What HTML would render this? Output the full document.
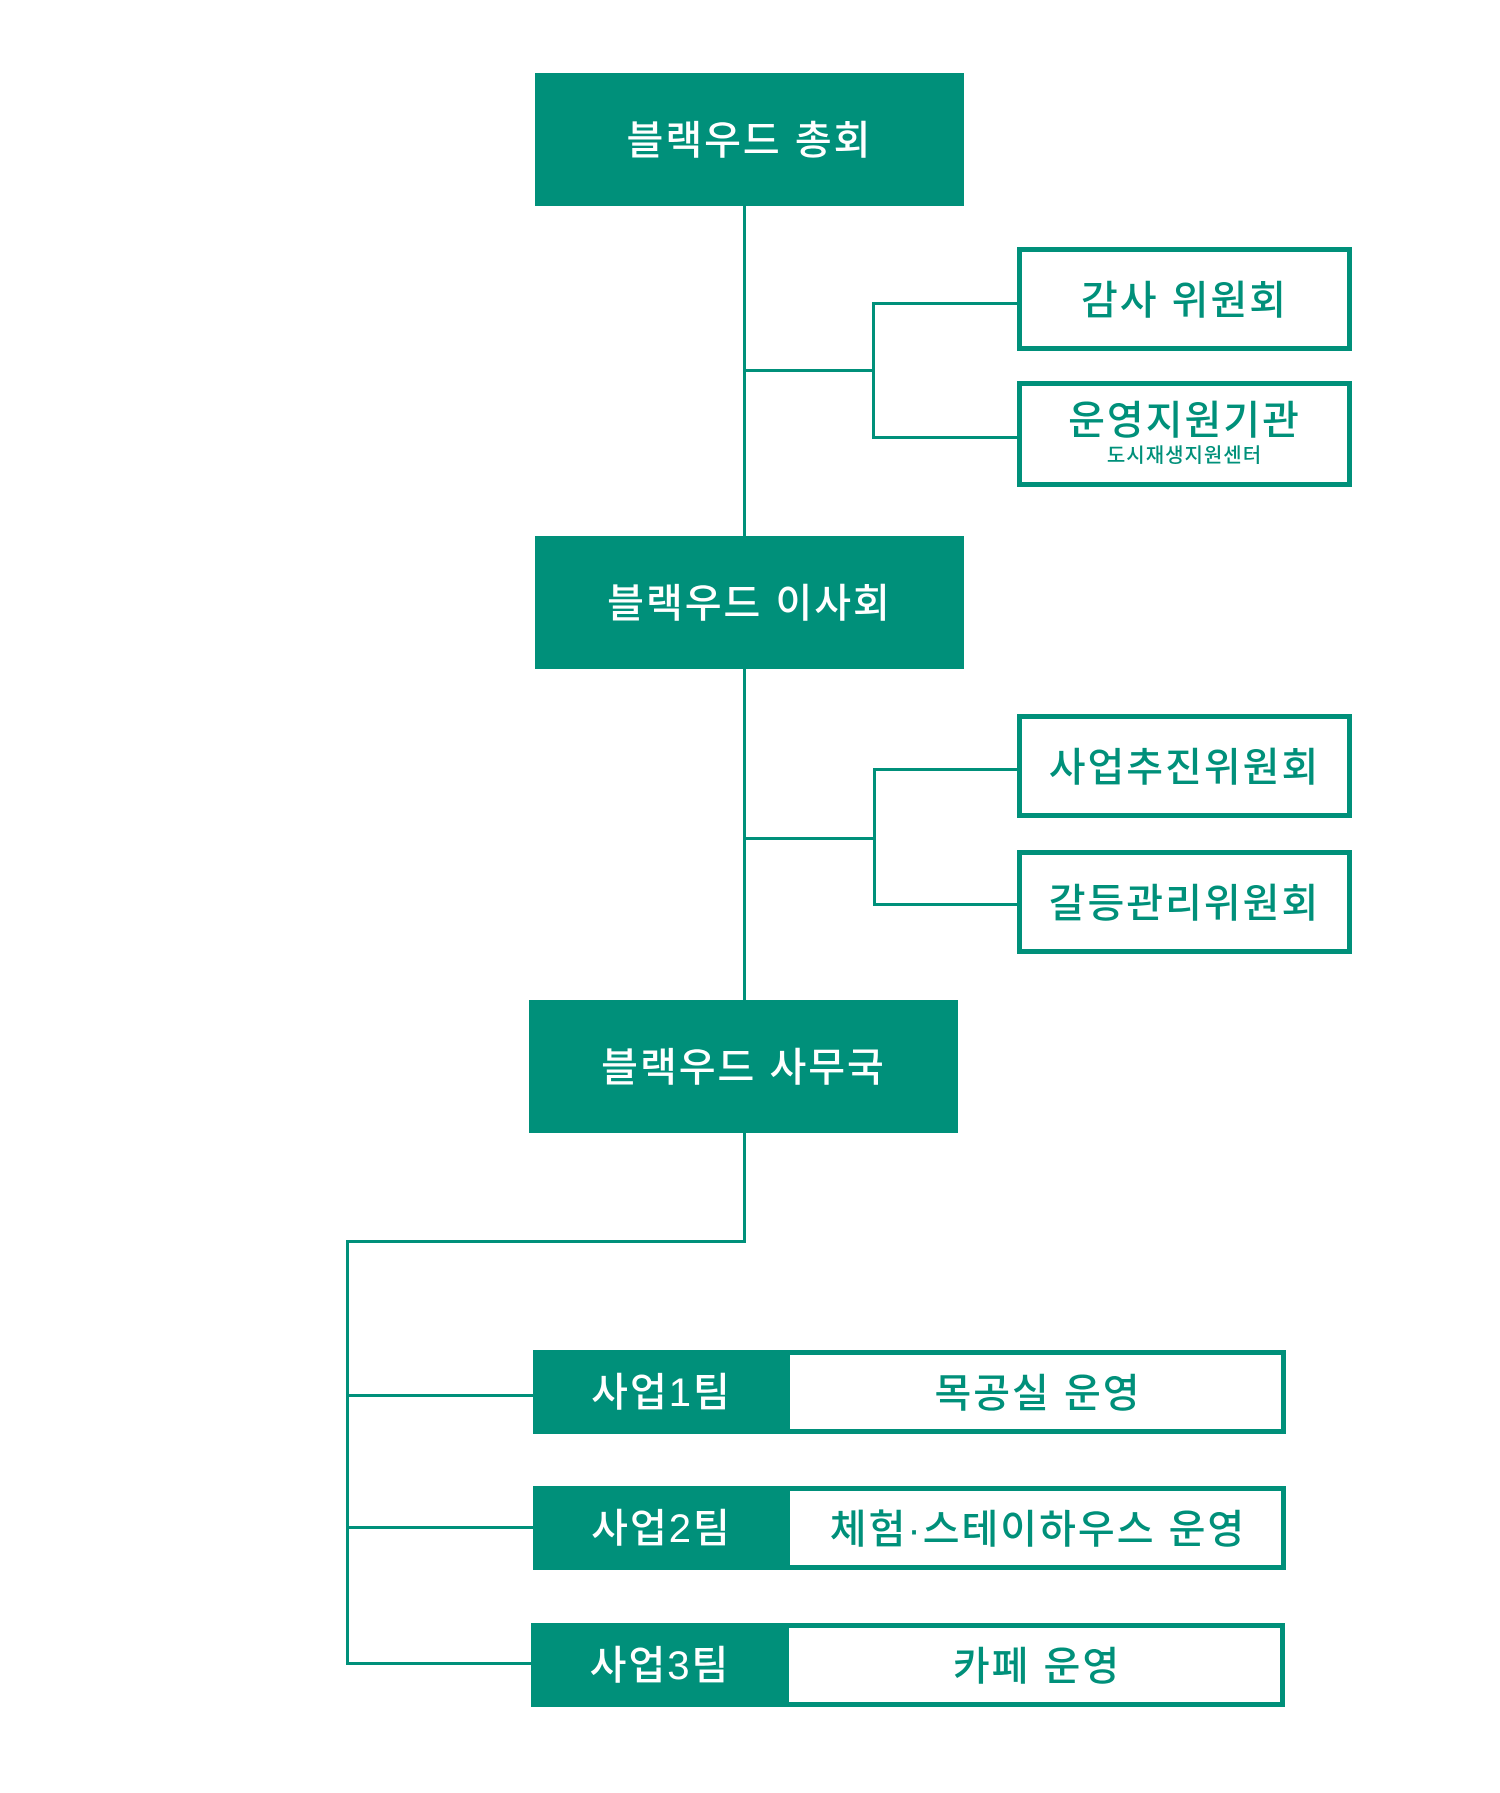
<!DOCTYPE html>
<html><head><meta charset="utf-8"><style>
body{margin:0;width:1500px;height:1793px;background:#fff;position:relative;overflow:hidden;font-family:"Liberation Sans","Noto Sans CJK KR",sans-serif}
.d{position:absolute;box-sizing:border-box;display:flex;align-items:center;justify-content:center;flex-direction:column;letter-spacing:2px}
.f{background:#00907a;color:#fff;font-size:40px;font-weight:500;padding-bottom:6px}
.o{border:5px solid #00907a;color:#00907a;font-size:40px;font-weight:500;background:#fff;padding-bottom:4px}
.l{position:absolute;background:#00907a}
</style></head><body>
<div class="l" style="left:743px;top:205px;width:3px;height:335px"></div>
<div class="l" style="left:743px;top:668px;width:3px;height:334px"></div>
<div class="l" style="left:743px;top:1132px;width:3px;height:110px"></div>
<div class="l" style="left:743px;top:369px;width:131px;height:3px"></div>
<div class="l" style="left:872px;top:302px;width:3px;height:137px"></div>
<div class="l" style="left:872px;top:302px;width:147px;height:3px"></div>
<div class="l" style="left:872px;top:436px;width:147px;height:3px"></div>
<div class="l" style="left:743px;top:837px;width:132px;height:3px"></div>
<div class="l" style="left:873px;top:768px;width:3px;height:138px"></div>
<div class="l" style="left:873px;top:768px;width:146px;height:3px"></div>
<div class="l" style="left:873px;top:903px;width:146px;height:3px"></div>
<div class="l" style="left:346px;top:1240px;width:400px;height:3px"></div>
<div class="l" style="left:346px;top:1240px;width:3px;height:425px"></div>
<div class="l" style="left:346px;top:1394px;width:188px;height:3px"></div>
<div class="l" style="left:346px;top:1526px;width:188px;height:3px"></div>
<div class="l" style="left:346px;top:1662px;width:186px;height:3px"></div>
<div class="d f" style="left:535px;top:73px;width:429px;height:133px">블랙우드 총회</div>
<div class="d o" style="left:1017px;top:247px;width:335px;height:104px">감사 위원회</div>
<div class="d o" style="left:1017px;top:381px;width:335px;height:106px;padding-bottom:0"><div style="line-height:44px;margin-top:0">운영지원기관</div><div style="font-size:20px;line-height:26px;letter-spacing:1px">도시재생지원센터</div></div>
<div class="d f" style="left:535px;top:536px;width:429px;height:133px">블랙우드 이사회</div>
<div class="d o" style="left:1017px;top:714px;width:335px;height:104px">사업추진위원회</div>
<div class="d o" style="left:1017px;top:850px;width:335px;height:104px">갈등관리위원회</div>
<div class="d f" style="left:529px;top:1000px;width:429px;height:133px">블랙우드 사무국</div>
<div class="d o" style="left:780px;top:1350px;width:506px;height:84px;padding-left:10px">목공실 운영</div>
<div class="d f" style="left:533px;top:1350px;width:257px;height:84px">사업1팀</div>
<div class="d o" style="left:780px;top:1486px;width:506px;height:84px;padding-left:10px">체험·스테이하우스 운영</div>
<div class="d f" style="left:533px;top:1486px;width:257px;height:84px">사업2팀</div>
<div class="d o" style="left:779px;top:1623px;width:506px;height:84px;padding-left:10px">카페 운영</div>
<div class="d f" style="left:531px;top:1623px;width:258px;height:84px">사업3팀</div>
</body></html>
